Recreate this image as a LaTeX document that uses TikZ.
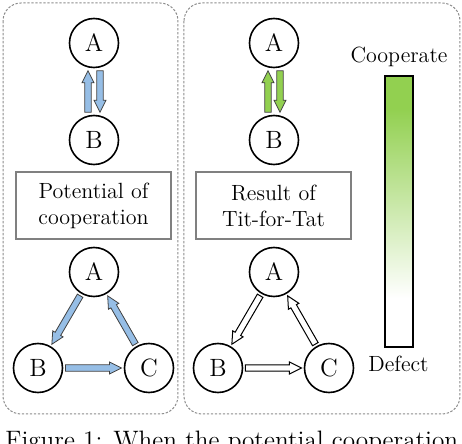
\documentclass[tikz,border=0pt]{standalone}
\usepackage{fontspec}
\usetikzlibrary{calc}
\definecolor{arrBlue}{HTML}{96BEE6}
\definecolor{arrGreen}{HTML}{92D050}
\definecolor{panelGray}{HTML}{8C8C8C}
\definecolor{boxGray}{HTML}{808080}
\pgfdeclareverticalshading{coopbar}{100bp}{color(0bp)=(white); color(34bp)=(white); color(69bp)=(arrGreen); color(100bp)=(arrGreen)}
\def\bsw{1.6pt}
\def\bhw{3pt}
\def\bhl{6pt}
\newcommand\blockarrow[3]{%
  \path let \p1=(#2), \p2=(#3) in \pgfextra{\pgfmathparse{atan2(\y2-\y1,\x2-\x1)}\xdef\baAng{\pgfmathresult}\pgfmathparse{veclen(\x2-\x1,\y2-\y1)}\xdef\baLen{\pgfmathresult}};
  \draw[#1, shift={(#2)}, rotate=\baAng] (0pt,-\bsw) -- ({\baLen pt-\bhl},-\bsw) -- ({\baLen pt-\bhl},-\bhw) -- (\baLen pt,0pt) -- ({\baLen pt-\bhl},\bhw) -- ({\baLen pt-\bhl},\bsw) -- (0pt,\bsw) -- cycle;
}
\tikzset{
 agent/.style={circle, draw, line width=0.8pt, minimum size=24.5pt, inner sep=0pt, font=\fontsize{12.5}{14}\selectfont},
 labelbox/.style={draw=boxGray, line width=0.6pt, minimum width=77.5pt, minimum height=33.5pt, align=center, font=\fontsize{11}{13}\selectfont, inner sep=0pt},
 panel/.style={draw=panelGray, line width=0.5pt, dash pattern=on 1.2pt off 0.8pt, rounded corners=9pt},
 bluearr/.style={fill=arrBlue, draw=black!75, line width=0.4pt},
 greenarr/.style={fill=arrGreen, draw=black!75, line width=0.4pt},
 hollowarr/.style={fill=white, draw=black, line width=0.5pt},
 barlabel/.style={anchor=base, inner sep=0pt, font=\fontsize{11}{13}\selectfont},
}
\begin{document}
\begin{tikzpicture}[x=0.5pt, y=-0.5pt]
\useasboundingbox (0,0) rectangle (462,444);
\clip (0,0) rectangle (462,444);
\draw[panel] (3,3) rectangle (178,414);
\draw[panel] (184,3) rectangle (460,414);
% left panel
\node[agent] (A1) at (94,43) {A};
\node[agent] (B1) at (94,140) {B};
\node[labelbox] (L1) at (93.5,205.5) {Potential of\\cooperation};
\node[agent] (A2) at (94,272) {A};
\node[agent] (B2) at (38,368) {B};
\node[agent] (C2) at (149,368) {C};
% right panel
\node[agent] (A3) at (274,43) {A};
\node[agent] (B3) at (274,140) {B};
\node[labelbox] (L2) at (273.5,205.5) {Result of\\Tit-for-Tat};
\node[agent] (A4) at (274,272) {A};
\node[agent] (B4) at (218,368) {B};
\node[agent] (C4) at (329,368) {C};
% bar
\node[draw, line width=0.8pt, shade, shading=coopbar, minimum width=14pt, minimum height=135.5pt, inner sep=0pt] (bar) at (399,211.5) {};
\node[barlabel] (coop) at (399,62.5) {Cooperate};
\node[barlabel] (defect) at (398.5,371.5) {Defect};
% caption
\node[anchor=base west, inner sep=0pt, font=\fontsize{12.6}{15}\selectfont] (cap) at (5,449) {Figure 1: When the potential cooperation};
% pair arrows left
\coordinate (u1s) at ($(B1.north)+(-6,-2.5)$);
\coordinate (u1e) at ($(A1.south)+(-6,2.5)$);
\coordinate (d1s) at ($(A1.south)+(6,2.5)$);
\coordinate (d1e) at ($(B1.north)+(6,-2.5)$);
\blockarrow{bluearr}{u1s}{u1e}
\blockarrow{bluearr}{d1s}{d1e}
% pair arrows right
\coordinate (u3s) at ($(B3.north)+(-6,-2.5)$);
\coordinate (u3e) at ($(A3.south)+(-6,2.5)$);
\coordinate (d3s) at ($(A3.south)+(6,2.5)$);
\coordinate (d3e) at ($(B3.north)+(6,-2.5)$);
\blockarrow{greenarr}{u3s}{u3e}
\blockarrow{greenarr}{d3s}{d3e}
% triangle left
\coordinate (ab2s) at ($(A2.center)!13.75pt!(B2.center)$);
\coordinate (ab2e) at ($(B2.center)!13.75pt!(A2.center)$);
\coordinate (bc2s) at ($(B2.center)!13.75pt!(C2.center)$);
\coordinate (bc2e) at ($(C2.center)!13.75pt!(B2.center)$);
\coordinate (ca2s) at ($(C2.center)!13.75pt!(A2.center)$);
\coordinate (ca2e) at ($(A2.center)!13.75pt!(C2.center)$);
\blockarrow{bluearr}{ab2s}{ab2e}
\blockarrow{bluearr}{bc2s}{bc2e}
\blockarrow{bluearr}{ca2s}{ca2e}
% triangle right
\coordinate (ab4s) at ($(A4.center)!13.75pt!(B4.center)$);
\coordinate (ab4e) at ($(B4.center)!13.75pt!(A4.center)$);
\coordinate (bc4s) at ($(B4.center)!13.75pt!(C4.center)$);
\coordinate (bc4e) at ($(C4.center)!13.75pt!(B4.center)$);
\coordinate (ca4s) at ($(C4.center)!13.75pt!(A4.center)$);
\coordinate (ca4e) at ($(A4.center)!13.75pt!(C4.center)$);
\blockarrow{hollowarr}{ab4s}{ab4e}
\blockarrow{hollowarr}{bc4s}{bc4e}
\blockarrow{hollowarr}{ca4s}{ca4e}
\end{tikzpicture}
\end{document}
